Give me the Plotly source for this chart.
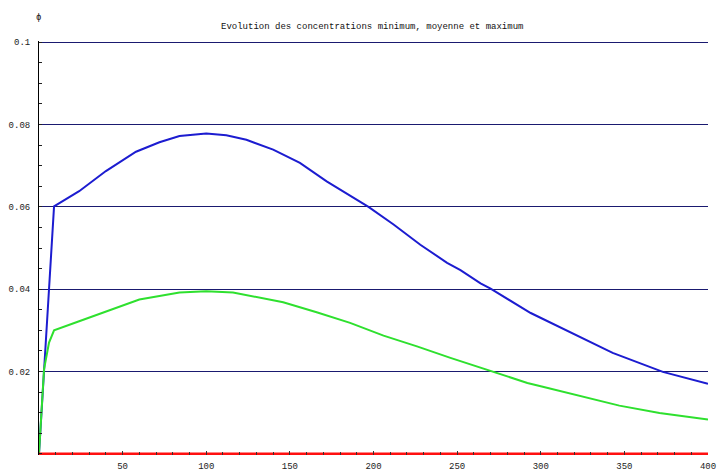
import plotly.graph_objects as go

# Data
x_max = [0, 9, 24, 40, 58, 72, 84, 100, 112, 124, 140, 156, 172, 188, 197, 212, 228, 244, 252, 264, 270, 294, 322, 343, 373, 400]
y_max = [0, 0.0601, 0.0638, 0.0687, 0.0734, 0.0757, 0.0772, 0.0778, 0.0774, 0.0763, 0.0739, 0.0707, 0.0662, 0.0622, 0.0600, 0.0557, 0.0508, 0.0464, 0.0446, 0.0414, 0.0401, 0.0342, 0.0286, 0.0245, 0.0199, 0.0170]

x_avg = [0, 3, 6, 9, 24, 40, 60, 84, 100, 116, 126, 146, 166, 186, 206, 226, 246, 264, 272, 292, 300, 312, 324, 332, 347, 371, 400]
y_avg = [0, 0.0205, 0.027, 0.030, 0.0322, 0.0346, 0.0375, 0.0392, 0.0395, 0.0392, 0.0384, 0.0368, 0.0344, 0.0318, 0.0287, 0.0261, 0.0233, 0.0209, 0.0197, 0.0172, 0.0164, 0.0152, 0.0140, 0.0133, 0.0117, 0.0099, 0.0083]

x_min = [0, 100, 200, 300, 400]
y_min = [0, 0, 0, 0, 0]

x_ticks = [50, 100, 150, 200, 250, 300, 350, 400]
y_ticks = [0.02, 0.04, 0.06, 0.08, 0.1]
y_tick_labels = ["0.02", "0.04", "0.06", "0.08", "0.1"]

title_text = "Evolution des concentrations minimum, moyenne et maximum"
y_label = "ϕ"

mono = "Liberation Mono"

W, H = 724, 472
L, R, T, B = 39, 16, 41, 17
pw = W - L - R
ph = H - T - B

fig = go.Figure()
fig.add_trace(go.Scatter(x=x_max, y=y_max, mode="lines", line=dict(color="#1c1cd0", width=2), name="maximum"))
fig.add_trace(go.Scatter(x=x_avg, y=y_avg, mode="lines", line=dict(color="#2ee02e", width=2), name="moyenne"))
fig.add_trace(go.Scatter(x=x_min, y=y_min, mode="lines", line=dict(color="#ff1010", width=2.5), name="minimum"))

fig.update_layout(
    width=W, height=H,
    margin=dict(l=L, r=R, t=T, b=B),
    paper_bgcolor="white", plot_bgcolor="white",
    showlegend=False,
    font=dict(family=mono, size=9, color="#222222"),
    annotations=[
        dict(text=title_text, xref="paper", yref="paper",
             x=(372 - L) / pw, y=(H - B - 27) / ph,
             showarrow=False, font=dict(family=mono, size=9, color="#111111"),
             xanchor="center", yanchor="middle"),
        dict(text=y_label, xref="paper", yref="paper",
             x=(38 - L) / pw, y=(H - B - 18) / ph,
             showarrow=False, font=dict(family=mono, size=9, color="#111111"),
             xanchor="center", yanchor="middle"),
    ],
)

fig.update_xaxes(
    range=[0, 400], tickvals=x_ticks, ticks="inside", ticklen=4, tickcolor="#333333",
    showgrid=False, zeroline=False, showline=False, automargin=False,
    minor=dict(dtick=10, tick0=0, ticks="inside", ticklen=3, tickcolor="#333333", showgrid=False),
    tickfont=dict(family=mono, size=9, color="#222222"),
    ticklabelstandoff=4,
)
fig.update_yaxes(
    range=[-0.0003, 0.1003], tickvals=y_ticks, ticktext=y_tick_labels, ticks="inside", ticklen=3, tickcolor="#222222",
    showgrid=True, gridcolor="#1a1a70", gridwidth=1, zeroline=False,
    showline=True, linecolor="#000000", linewidth=1, automargin=False,
    minor=dict(dtick=0.005, tick0=0, ticks="inside", ticklen=3, tickcolor="#222222", showgrid=False),
    tickfont=dict(family=mono, size=9, color="#222222"),
    ticklabelstandoff=6,
)

fig.write_html(
    "out.html",
    config={"displayModeBar": False},
    post_script="document.body.style.margin='0px';document.body.style.padding='0px';",
)
